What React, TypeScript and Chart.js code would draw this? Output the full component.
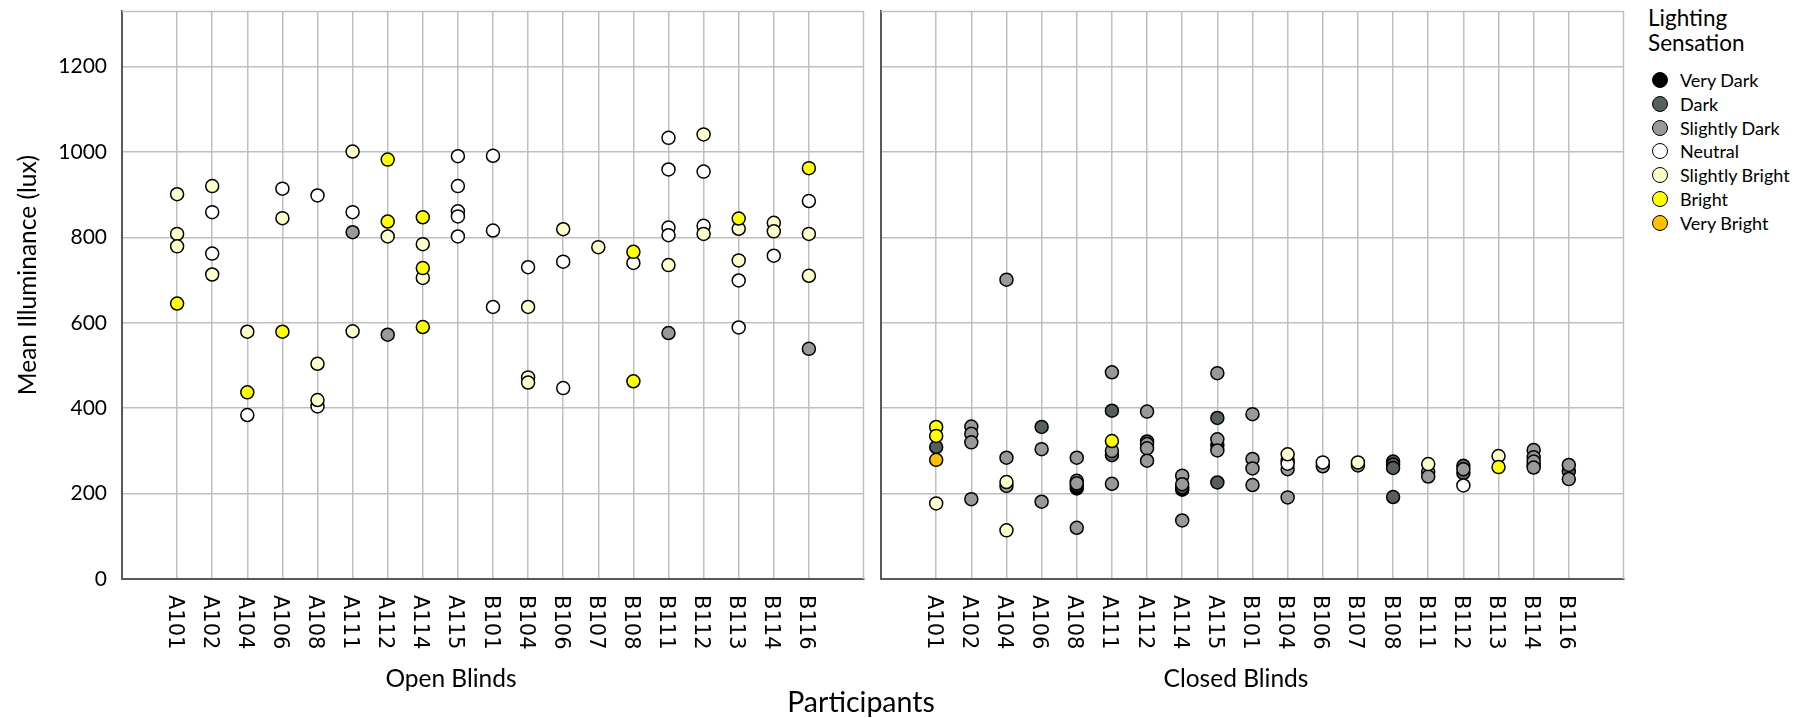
import React, { useEffect, useRef } from 'react';
import { Chart, registerables } from 'chart.js';

Chart.register(...registerables);

type Pt = [string, number];

const participants = ['A101', 'A102', 'A104', 'A106', 'A108', 'A111', 'A112', 'A114', 'A115', 'B101', 'B104', 'B106', 'B107', 'B108', 'B111', 'B112', 'B113', 'B114', 'B116'];
const sensations = ['Very Dark', 'Dark', 'Slightly Dark', 'Neutral', 'Slightly Bright', 'Bright', 'Very Bright'];
const sensationColors = ['#000000', '#56605b', '#999999', '#ffffff', '#ffffcc', '#ffff00', '#ffc000'];
const yTickValues = [0, 200, 400, 600, 800, 1000, 1200];
const yMax = 1330;
const panelTitles = ['Open Blinds', 'Closed Blinds'];
const xAxisTitle = 'Participants';
const yAxisTitle = 'Mean Illuminance (lux)';
const legendTitle = ['Lighting', 'Sensation'];

// ---- Open blinds ----
const openVeryDark: Pt[] = [];
const openDark: Pt[] = [];
const openSlightlyDark: Pt[] = [['A111', 812], ['A112', 572], ['B111', 576], ['B116', 539]];
const openNeutral: Pt[] = [
  ['A102', 859], ['A102', 762], ['A104', 384], ['A106', 914], ['A108', 898], ['A108', 404],
  ['A111', 859], ['A115', 990], ['A115', 920], ['A115', 861], ['A115', 849], ['A115', 802],
  ['B101', 991], ['B101', 816], ['B101', 637], ['B104', 730], ['B106', 743], ['B106', 447],
  ['B108', 740], ['B111', 1033], ['B111', 959], ['B111', 823], ['B111', 805], ['B112', 954],
  ['B112', 827], ['B113', 699], ['B113', 589], ['B114', 757], ['B116', 885],
];
const openSlightlyBright: Pt[] = [
  ['A101', 901], ['A101', 808], ['A101', 779], ['A102', 920], ['A102', 713], ['A104', 579],
  ['A106', 845], ['A108', 504], ['A108', 419], ['A111', 1001], ['A111', 580], ['A112', 802],
  ['A114', 784], ['A114', 705], ['B104', 637], ['B104', 472], ['B104', 460], ['B106', 819],
  ['B107', 777], ['B111', 735], ['B112', 1041], ['B112', 808], ['B113', 820], ['B113', 746],
  ['B114', 834], ['B114', 814], ['B116', 808], ['B116', 710],
];
const openBright: Pt[] = [
  ['A101', 645], ['A104', 437], ['A106', 579], ['A112', 982], ['A112', 837], ['A114', 847],
  ['A114', 728], ['A114', 590], ['B108', 766], ['B108', 463], ['B113', 844], ['B116', 962],
];
const openVeryBright: Pt[] = [];

// ---- Closed blinds ----
const closedVeryDark: Pt[] = [['A108', 212], ['A114', 209], ['A115', 313]];
const closedDark: Pt[] = [
  ['A101', 309], ['A106', 356], ['A108', 220], ['A111', 394], ['A111', 290], ['A112', 322],
  ['A114', 215], ['A115', 377], ['A115', 226], ['B108', 275], ['B108', 268], ['B108', 260],
  ['B108', 192], ['B112', 265], ['B112', 248], ['B114', 266], ['B116', 252],
];
const closedSlightlyDark: Pt[] = [
  ['A102', 357], ['A102', 340], ['A102', 320], ['A102', 187], ['A104', 701], ['A104', 284],
  ['A104', 218], ['A106', 304], ['A106', 181], ['A108', 284], ['A108', 230], ['A108', 224],
  ['A108', 120], ['A111', 484], ['A111', 300], ['A111', 223], ['A112', 392], ['A112', 316],
  ['A112', 306], ['A112', 277], ['A114', 242], ['A114', 222], ['A114', 137], ['A115', 482],
  ['A115', 327], ['A115', 301], ['B101', 386], ['B101', 281], ['B101', 259], ['B101', 220],
  ['B104', 257], ['B104', 191], ['B106', 264], ['B107', 266], ['B111', 251], ['B111', 240],
  ['B112', 257], ['B114', 302], ['B114', 285], ['B114', 275], ['B114', 261], ['B116', 267],
  ['B116', 234],
];
const closedNeutral: Pt[] = [['B104', 277], ['B104', 270], ['B106', 273], ['B112', 219]];
const closedSlightlyBright: Pt[] = [
  ['A101', 177], ['A104', 227], ['A104', 114], ['B104', 292], ['B107', 273], ['B111', 269], ['B113', 288],
];
const closedBright: Pt[] = [['A101', 356], ['A101', 335], ['A111', 323], ['B113', 262]];
const closedVeryBright: Pt[] = [['A101', 279]];

const openSeries = [openVeryDark, openDark, openSlightlyDark, openNeutral, openSlightlyBright, openBright, openVeryBright];
const closedSeries = [closedVeryDark, closedDark, closedSlightlyDark, closedNeutral, closedSlightlyBright, closedBright, closedVeryBright];

const GRID = '#bfbfbf';
const AXIS = '#595959';
const CALIBRI_LIKE = 'Lato, "Open Sans", sans-serif';

function buildDatasets(series: Pt[][]) {
  return series.map((pts, i) => ({
    label: sensations[i],
    data: pts.map(([p, v]) => ({ x: participants.indexOf(p), y: v })),
    backgroundColor: sensationColors[i],
    borderColor: '#000000',
    borderWidth: 1.5,
    pointRadius: 6.5,
    pointHoverRadius: 6.5,
    order: sensations.length - 1 - i,
  }));
}

function decorPlugin(title: string, titleX: number, withYTitle: boolean) {
  return {
    id: 'panelDecor',
    beforeDatasetsDraw(chart: any) {
      const { ctx, chartArea: a } = chart;
      ctx.save();
      ctx.strokeStyle = GRID;
      ctx.lineWidth = 1.5;
      ctx.beginPath();
      ctx.moveTo(a.left, a.top + 0.5);
      ctx.lineTo(a.right, a.top + 0.5);
      ctx.moveTo(a.right - 0.5, a.top);
      ctx.lineTo(a.right - 0.5, a.bottom);
      ctx.stroke();
      ctx.restore();
    },
    afterDraw(chart: any) {
      const { ctx } = chart;
      const xs = chart.scales.x;
      const labelTop = chart.chartArea.bottom + 16;
      ctx.save();
      ctx.fillStyle = '#000000';
      ctx.font = '21px "DejaVu Sans"';
      ctx.textAlign = 'left';
      ctx.textBaseline = 'middle';
      participants.forEach((p, i) => {
        const px = xs.getPixelForValue(i);
        ctx.save();
        ctx.translate(px - 3, labelTop);
        ctx.rotate(Math.PI / 2);
        ctx.fillText(p, 0, 0);
        ctx.restore();
      });
      ctx.font = `24.5px ${CALIBRI_LIKE}`;
      ctx.textAlign = 'center';
      ctx.fillText(title, titleX, 679);
      if (withYTitle) {
        ctx.save();
        ctx.translate(28, 275);
        ctx.rotate(-Math.PI / 2);
        ctx.font = `24.5px ${CALIBRI_LIKE}`;
        ctx.fillText(yAxisTitle, 0, 0);
        ctx.restore();
      }
      ctx.restore();
    },
  };
}

function makeConfig(series: Pt[][], isLeft: boolean, canvasLeft: number): any {
  const titleX = isLeft ? 451 - canvasLeft : 1236 - canvasLeft;
  return {
    type: 'scatter',
    data: { datasets: buildDatasets(series) },
    options: {
      animation: false,
      responsive: false,
      devicePixelRatio: 1,
      events: [],
      layout: { padding: { left: 0, right: isLeft ? 4 : 7, top: 11, bottom: 0 } },
      plugins: { legend: { display: false }, tooltip: { enabled: false } },
      scales: {
        x: {
          type: 'linear',
          min: -1.57,
          max: participants.length - 1 + 1.57,
          afterBuildTicks: (axis: any) => {
            axis.ticks = participants.map((_, i) => ({ value: i }));
          },
          afterFit: (scale: any) => {
            scale.height = 139;
            scale.paddingLeft = 0;
            scale.paddingRight = 0;
          },
          ticks: { display: false },
          grid: { color: GRID, lineWidth: 1.5, drawTicks: false },
          border: { display: true, color: AXIS, width: 2 },
        },
        y: {
          type: 'linear',
          min: 0,
          max: yMax,
          afterBuildTicks: (axis: any) => {
            axis.ticks = yTickValues.map((v) => ({ value: v }));
          },
          afterFit: (scale: any) => {
            scale.width = isLeft ? 122 : 9;
            scale.paddingTop = 0;
            scale.paddingBottom = 0;
          },
          ticks: {
            display: isLeft,
            padding: 15,
            color: '#000000',
            font: { family: CALIBRI_LIKE, size: 21 },
            callback: (v: number) => String(v),
          },
          grid: { color: GRID, lineWidth: 1.5, drawTicks: false },
          border: { display: true, color: AXIS, width: 2 },
        },
      },
    },
    plugins: [decorPlugin(isLeft ? panelTitles[0] : panelTitles[1], titleX, isLeft)],
  };
}

const LEFT_X = 0;
const LEFT_W = 872;
const RIGHT_X = 872;
const RIGHT_W = 760;

export default function App() {
  const leftRef = useRef<HTMLCanvasElement>(null);
  const rightRef = useRef<HTMLCanvasElement>(null);

  useEffect(() => {
    document.body.style.margin = '0';
    const c1 = new Chart(leftRef.current as HTMLCanvasElement, makeConfig(openSeries, true, LEFT_X));
    const c2 = new Chart(rightRef.current as HTMLCanvasElement, makeConfig(closedSeries, false, RIGHT_X));
    return () => {
      c1.destroy();
      c2.destroy();
    };
  }, []);

  return (
    <div style={{ position: 'relative', width: 1796, height: 718, background: '#ffffff', overflow: 'hidden' }}>
      <canvas ref={leftRef} width={LEFT_W} height={718} style={{ position: 'absolute', left: LEFT_X, top: 0, display: 'block' }} />
      <canvas ref={rightRef} width={RIGHT_W} height={718} style={{ position: 'absolute', left: RIGHT_X, top: 0, display: 'block' }} />
      <div
        style={{
          position: 'absolute', left: 661, width: 400, top: 684, textAlign: 'center',
          font: `28.5px ${CALIBRI_LIKE}`, lineHeight: '34px', color: '#000',
        }}
      >
        {xAxisTitle}
      </div>
      <div
        style={{
          position: 'absolute', left: 1648, top: 5, font: `22.5px ${CALIBRI_LIKE}`, lineHeight: '25px', color: '#000',
        }}
      >
        {legendTitle[0]}
        <br />
        {legendTitle[1]}
      </div>
      {sensations.map((s, i) => (
        <div
          key={s}
          style={{
            position: 'absolute', left: 1652, top: 80 + i * 23.8 - 12, height: 24,
            display: 'flex', alignItems: 'center', font: `18px ${CALIBRI_LIKE}`, color: '#000', whiteSpace: 'nowrap',
          }}
        >
          <span
            style={{
              display: 'inline-block', width: 14, height: 14, borderRadius: '50%',
              background: sensationColors[i], border: '1.5px solid #000', marginRight: 12,
            }}
          />
          {s}
        </div>
      ))}
    </div>
  );
}
